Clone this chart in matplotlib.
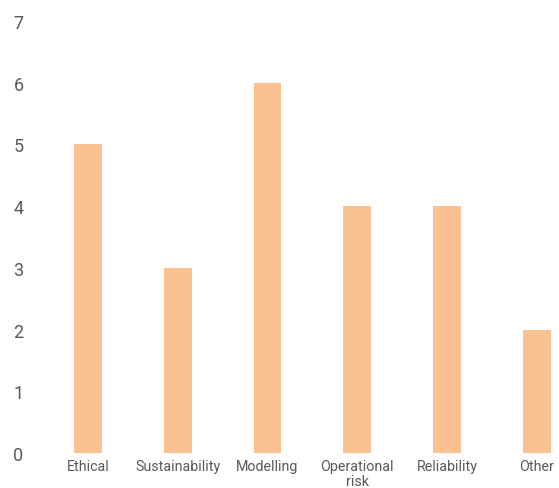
import numpy as np
import matplotlib
matplotlib.use("Agg")
import matplotlib.pyplot as plt

plt.rcParams['font.family'] = ['Roboto', 'DejaVu Sans']

categories = ['Ethical', 'Sustainability', 'Modelling', 'Operational\nrisk', 'Reliability', 'Other']
counts = [5, 3, 6, 4, 4, 2]

fig = plt.figure(figsize=(5.59, 4.89), dpi=100)
ax = fig.add_axes([43/559, 35/489, 516/559, 432/489])

x = np.arange(len(categories))
ax.bar(x, counts, width=0.31, color='#FAC291')

ax.set_xlim(-0.5, 5.245)
ax.set_ylim(0, 7)
ax.set_yticks(range(0, 8))
ax.set_xticks(x)
ax.set_xticklabels(categories, fontsize=10.3, color='#595959', linespacing=1.1)
ax.tick_params(axis='y', labelsize=13, labelcolor='#595959', length=0, pad=14)
ax.tick_params(axis='x', length=0, pad=4)
for s in ax.spines.values():
    s.set_visible(False)

fig.savefig('out.png', dpi=100)
